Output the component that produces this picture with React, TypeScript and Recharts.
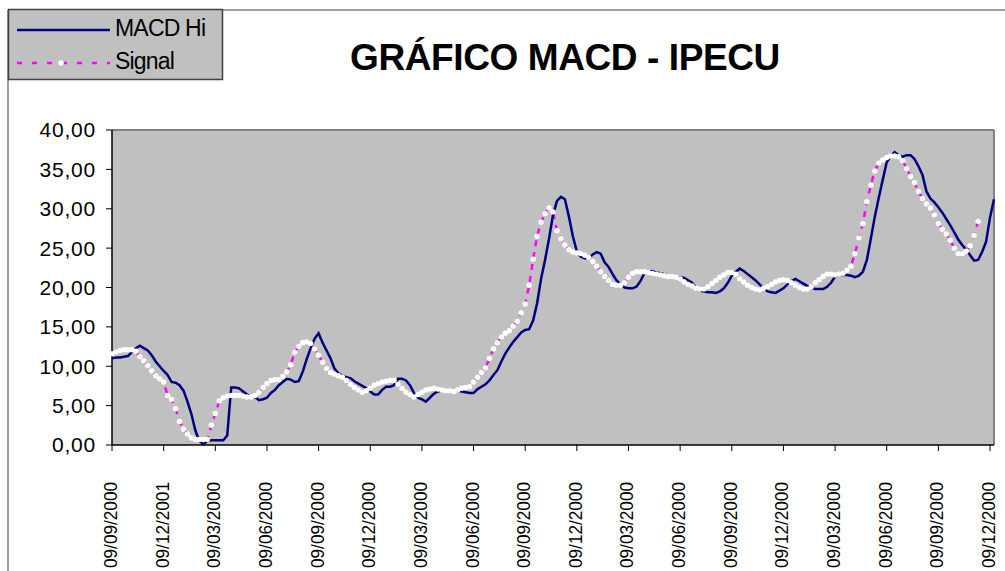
import React from "react"
import {
  LineChart,
  Line,
  XAxis,
  YAxis,
  CartesianGrid,
  ReferenceLine,
} from "recharts"

// ── Data (weekly points) ─────────────────────────────────────────────────────
const MACD_HI = [
  11.0, 11.1, 11.1, 11.2, 11.3, 11.8, 12.3, 12.6, 12.3, 12.0,
  11.4, 10.6, 10.0, 9.4, 8.9, 8.0, 7.9, 7.6, 6.9, 5.5,
  3.9, 1.8, 0.5, 0.1, 0.5, 0.6, 0.6, 0.6, 0.6, 1.2,
  7.3, 7.3, 7.2, 6.8, 6.4, 6.1, 6.1, 5.7, 5.8, 6.0,
  6.6, 7.0, 7.6, 8.0, 8.4, 8.3, 8.0, 8.1, 9.3, 10.9,
  12.3, 13.5, 14.2, 13.0, 12.0, 11.0, 9.7, 9.1, 8.8, 8.6,
  8.5, 8.1, 7.8, 7.5, 7.2, 6.8, 6.4, 6.4, 7.0, 7.4,
  7.4, 7.6, 8.4, 8.4, 8.2, 7.6, 6.6, 6.0, 5.8, 5.5,
  6.0, 6.5, 6.8, 6.9, 7.0, 7.0, 6.9, 6.9, 6.8, 6.7,
  6.6, 6.6, 7.1, 7.4, 7.7, 8.2, 8.9, 9.5, 10.6, 11.6,
  12.4, 13.1, 13.7, 14.3, 14.6, 14.7, 15.8, 18.0, 21.1, 23.5,
  26.2, 29.2, 31.0, 31.5, 31.2, 29.0, 26.5, 24.6, 23.9, 23.7,
  23.7, 24.2, 24.5, 24.3, 23.2, 22.6, 21.7, 20.9, 20.4, 20.0,
  19.9, 19.9, 20.1, 20.8, 21.8, 22.0, 22.1, 21.9, 21.8, 21.7,
  21.5, 21.4, 21.3, 21.3, 21.2, 20.9, 20.6, 20.0, 19.6, 19.5,
  19.4, 19.4, 19.3, 19.5, 19.9, 20.6, 21.5, 22.0, 22.4, 22.1,
  21.7, 21.3, 20.9, 20.4, 19.9, 19.5, 19.4, 19.3, 19.6, 19.9,
  20.4, 20.8, 21.1, 20.8, 20.5, 20.2, 20.0, 19.8, 19.8, 19.8,
  20.1, 20.6, 21.4, 21.6, 21.6, 21.6, 21.5, 21.3, 21.5, 22.0,
  23.5, 26.2, 29.0, 31.4, 33.7, 35.9, 36.7, 37.2, 36.8, 36.6,
  36.8, 36.8, 36.3, 35.4, 34.3, 32.2, 31.3, 30.8, 30.2, 29.5,
  28.7, 27.9, 27.0, 26.1, 25.4, 24.8, 24.1, 23.4, 23.5, 24.5,
  25.8, 28.9, 31.2,
]

const SIGNAL = [
  11.6, 11.8, 12.0, 12.1, 12.1, 12.1, 11.9, 11.2, 10.7, 10.1,
  9.4, 8.8, 8.4, 8.0, 6.3, 5.8, 4.6, 3.0, 2.0, 1.4,
  0.9, 0.7, 0.7, 0.7, 0.7, 2.5, 4.0, 5.6, 6.0, 6.2,
  6.3, 6.3, 6.3, 6.2, 6.1, 6.1, 6.3, 6.7, 7.3, 7.8,
  8.2, 8.3, 8.3, 8.7, 9.3, 10.2, 11.8, 12.5, 13.0, 13.1,
  12.9, 12.2, 11.4, 10.5, 9.7, 9.2, 9.0, 8.8, 8.6, 8.2,
  7.7, 7.3, 7.0, 6.7, 6.9, 7.2, 7.6, 7.8, 8.0, 8.1,
  8.2, 8.2, 7.7, 7.2, 6.7, 6.4, 6.1, 6.4, 6.7, 7.0,
  7.1, 7.2, 7.1, 7.0, 6.9, 6.9, 6.8, 7.0, 7.2, 7.3,
  7.4, 8.0, 8.6, 9.2, 9.8, 11.0, 12.2, 13.0, 13.7, 14.2,
  14.5, 15.1, 15.7, 16.8, 17.9, 20.3, 23.6, 26.5, 28.3, 29.4,
  30.1, 29.6, 27.2, 26.2, 25.4, 24.8, 24.5, 24.4, 24.3, 24.1,
  23.8, 23.3, 22.7, 22.0, 21.4, 20.9, 20.4, 20.3, 20.3, 20.6,
  21.3, 21.8, 22.0, 22.0, 22.0, 21.9, 21.8, 21.7, 21.6, 21.5,
  21.4, 21.4, 21.3, 21.1, 20.7, 20.4, 20.2, 19.9, 19.8, 19.8,
  20.1, 20.5, 20.9, 21.3, 21.6, 21.9, 21.9, 21.7, 21.1, 20.7,
  20.3, 20.0, 19.8, 19.7, 19.9, 20.1, 20.4, 20.7, 20.9, 21.0,
  20.9, 20.6, 20.3, 20.0, 19.8, 19.8, 20.1, 20.6, 21.0, 21.4,
  21.7, 21.7, 21.6, 21.7, 21.8, 22.2, 22.7, 24.3, 26.3, 28.1,
  30.9, 33.0, 34.8, 35.8, 36.2, 36.5, 36.7, 36.7, 36.6, 36.1,
  35.1, 34.1, 33.3, 32.2, 31.3, 30.6, 30.1, 29.2, 28.1, 27.4,
  26.8, 26.0, 25.0, 24.3, 24.3, 24.6, 25.3, 26.6, 28.4,
]

// one label every 13 weeks (quarter)
const DATE_LABELS = [
  "09/09/2000", "09/12/2001", "09/03/2000", "09/06/2000", "09/09/2000", "09/12/2000",
  "09/03/2000", "09/06/2000", "09/09/2000", "09/12/2000", "09/03/2000", "09/06/2000",
  "09/09/2000", "09/12/2000", "09/03/2000", "09/06/2000", "09/09/2000", "09/12/2000",
]
const WEEKS_PER_LABEL = 13

const Y_TICKS = [0, 5, 10, 15, 20, 25, 30, 35, 40]

const FONT = "'Liberation Sans', Arial, sans-serif"
const NAVY = "#000080"
const MAGENTA = "#ff00ff"

const data = MACD_HI.map((v, i) => ({
  i,
  macd: v,
  signal: i < SIGNAL.length ? SIGNAL[i] : null,
}))
const lastIdx = MACD_HI.length - 1
const xTicks = DATE_LABELS.map((_, k) => k * WEEKS_PER_LABEL)

function DateTick(props: any) {
  const { x, y, payload } = props
  const label = DATE_LABELS[Math.round(payload.value / WEEKS_PER_LABEL)] ?? ""
  return (
    <text
      x={x}
      y={y}
      dy={5}
      transform={`rotate(-90 ${x} ${y})`}
      textAnchor="end"
      fontSize={18}
      fontFamily={FONT}
      fill="#000"
      textLength={86}
      lengthAdjust="spacingAndGlyphs"
    >
      {label}
    </text>
  )
}

export default function App() {
  return (
    <div style={{ position: "absolute", left: 0, top: 0, width: 1005, height: 571, background: "#fff", fontFamily: FONT }}>
      <svg width={1005} height={571} style={{ position: "absolute", left: 0, top: 0 }}>
        <line x1={8} y1={10} x2={1005} y2={10} stroke="#808080" strokeWidth={1.5} />
        <line x1={8} y1={10} x2={8} y2={571} stroke="#808080" strokeWidth={1.5} />
      </svg>

      <div style={{ position: "absolute", left: 0, top: 0 }}>
        <LineChart width={1005} height={571} data={data} margin={{ top: 130, right: 11, bottom: 0, left: 0 }}>
          <CartesianGrid fill="#c0c0c0" horizontal={false} vertical={false} />
          <XAxis
            type="number"
            dataKey="i"
            domain={[0, lastIdx]}
            ticks={xTicks}
            interval={0}
            height={126}
            tickSize={6}
            tickMargin={31}
            axisLine={{ stroke: "#000", strokeWidth: 1.5 }}
            tickLine={{ stroke: "#000" }}
            tick={<DateTick />}
          />
          <YAxis
            type="number"
            domain={[0, 40]}
            ticks={Y_TICKS}
            width={112}
            tickSize={6}
            tickMargin={10}
            axisLine={{ stroke: "#000", strokeWidth: 1.5 }}
            tickLine={{ stroke: "#000" }}
            tick={{ fontSize: 21, fill: "#000", fontFamily: FONT, letterSpacing: 0.8 }}
            tickFormatter={(v: number) => v.toFixed(2).replace(".", ",")}
          />
          <ReferenceLine y={40} stroke="#808080" strokeWidth={2} />
          <ReferenceLine x={lastIdx} stroke="#808080" strokeWidth={2} />
          <Line
            type="linear"
            dataKey="signal"
            stroke={MAGENTA}
            strokeWidth={2.5}
            strokeDasharray="6 6"
            dot={{ r: 2.7, fill: "#fff", stroke: "none", strokeDasharray: "" }}
            connectNulls={false}
            isAnimationActive={false}
          />
          <Line
            type="linear"
            dataKey="macd"
            stroke={NAVY}
            strokeWidth={2.5}
            dot={false}
            isAnimationActive={false}
          />
        </LineChart>
      </div>

      <svg width={1005} height={100} style={{ position: "absolute", left: 0, top: 0, pointerEvents: "none" }}>
        <rect x={8.5} y={9.5} width={214} height={70} fill="#c0c0c0" stroke="#404040" strokeWidth={1.5} />
        <line x1={17} y1={30} x2={110} y2={30} stroke={NAVY} strokeWidth={2.5} />
        <text x={115} y={36} fontSize={23} letterSpacing={-0.8} fontFamily={FONT} fill="#000">MACD Hi</text>
        <line x1={17} y1={63} x2={110} y2={63} stroke={MAGENTA} strokeWidth={2.5} strokeDasharray="5 10" />
        <circle cx={61} cy={63} r={2.8} fill="#fff" />
        <text x={115} y={69} fontSize={23} letterSpacing={-0.8} fontFamily={FONT} fill="#000">Signal</text>
        <text x={565} y={70} textAnchor="middle" fontSize={37} fontWeight="bold" letterSpacing={-0.4} fontFamily={FONT} fill="#000">
          GRÁFICO MACD - IPECU
        </text>
      </svg>
    </div>
  )
}
